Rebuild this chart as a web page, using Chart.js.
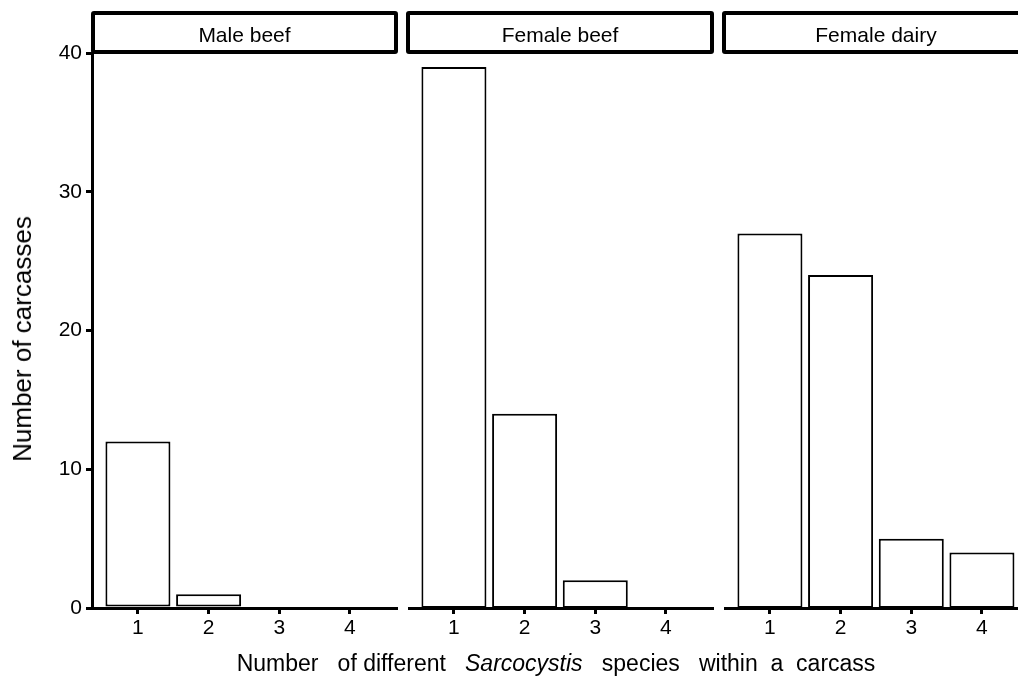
<!DOCTYPE html>
<html>
<head>
<meta charset="utf-8">
<script src="https://cdn.jsdelivr.net/npm/chart.js@4.4.1/dist/chart.umd.min.js"></script>
<style>
    html, body { margin: 0; padding: 0; background: #fff; }
    #wrap { position: relative; width: 1018px; height: 677px; overflow: hidden; background: #fff;
            font-family: "Liberation Sans", Arial, sans-serif; color: #000; }
    canvas { position: absolute; top: 0; }
    .strip { position: absolute; top: 11px; height: 35px; border: 4px solid #000; border-radius: 3px;
             text-align: center; font-size: 21px; line-height: 39px; white-space: nowrap; }
    #xTitle { position: absolute; left: 0; width: 1112px; top: 652px; text-align: center;
              font-size: 23px; line-height: 1; white-space: pre; }
    #yTitle { position: absolute; left: 22px; top: 339px; font-size: 26px; line-height: 1; white-space: nowrap;
              transform: translate(-50%, -50%) rotate(-90deg); }
</style>
</head>
<body>
<div id="wrap">
    <canvas id="panel1" width="398" height="677" style="left:0px"></canvas>
    <canvas id="panel2" width="306" height="677" style="left:408px"></canvas>
    <canvas id="panel3" width="306" height="677" style="left:724px"></canvas>
    <div class="strip" id="strip1" style="left:91px; width:299px"></div>
    <div class="strip" id="strip2" style="left:406px; width:300px"></div>
    <div class="strip" id="strip3" style="left:722px; width:300px"></div>
    <div id="yTitle">Number of carcasses</div>
    <div id="xTitle">Number   of different   <i>Sarcocystis</i>   species   within  a  carcass</div>
</div>
<script>
// facets and counts
const facets = ['Male beef', 'Female beef', 'Female dairy'];
const speciesCounts = [1, 2, 3, 4];
const maleBeef = [12, 1, 0, 0];
const femaleBeef = [39, 14, 2, 0];
const femaleDairy = [27, 24, 5, 4];
const yTicks = [0, 10, 20, 30, 40];

const FONT = '"Liberation Sans", Arial, sans-serif';

function makePanel(canvasId, values, showY) {
    const ctx = document.getElementById(canvasId);
    const yScale = {
        display: showY,
        min: 0,
        max: 40,
        afterBuildTicks: (scale) => { scale.ticks = yTicks.map(v => ({ value: v })); },
        grid: { drawOnChartArea: false, drawTicks: true, tickLength: 6, lineWidth: 3, color: '#000' },
        border: { display: true, color: '#000', width: 3 },
        ticks: {
            color: '#000',
            font: { family: FONT, size: 21 },
            padding: 4
        }
    };
    // only the first panel carries the y axis, fixed width so the plot starts at x=92
    if (showY) yScale.afterFit = (scale) => { scale.width = 92; };

    return new Chart(ctx, {
        type: 'bar',
        data: {
            datasets: [{
                data: speciesCounts.map((x, i) => ({ x: x, y: values[i] })),
                backgroundColor: '#ffffff',
                borderColor: '#000000',
                borderWidth: 2,
                borderSkipped: false,
                barPercentage: 0.92,
                categoryPercentage: 1
            }]
        },
        options: {
            responsive: false,
            animation: false,
            layout: { padding: { top: 53, left: 0, right: 0, bottom: 0 } },
            plugins: {
                legend: { display: false },
                tooltip: { enabled: false }
            },
            scales: {
                x: {
                    type: 'linear',
                    offset: false,
                    min: 0.35,
                    max: 4.68,
                    afterBuildTicks: (scale) => { scale.ticks = speciesCounts.map(v => ({ value: v })); },
                    afterFit: (scale) => { scale.height = 69; },
                    grid: { offset: false, drawOnChartArea: false, drawTicks: true, tickLength: 6, lineWidth: 3, color: '#000' },
                    border: { display: true, color: '#000', width: 3 },
                    ticks: {
                        color: '#000',
                        font: { family: FONT, size: 21 },
                        padding: 2,
                        maxRotation: 0,
                        autoSkip: false
                    }
                },
                y: yScale
            }
        }
    });
}

document.getElementById('strip1').textContent = facets[0];
document.getElementById('strip2').textContent = facets[1];
document.getElementById('strip3').textContent = facets[2];

makePanel('panel1', maleBeef, true);
makePanel('panel2', femaleBeef, false);
makePanel('panel3', femaleDairy, false);
</script>
</body>
</html>
